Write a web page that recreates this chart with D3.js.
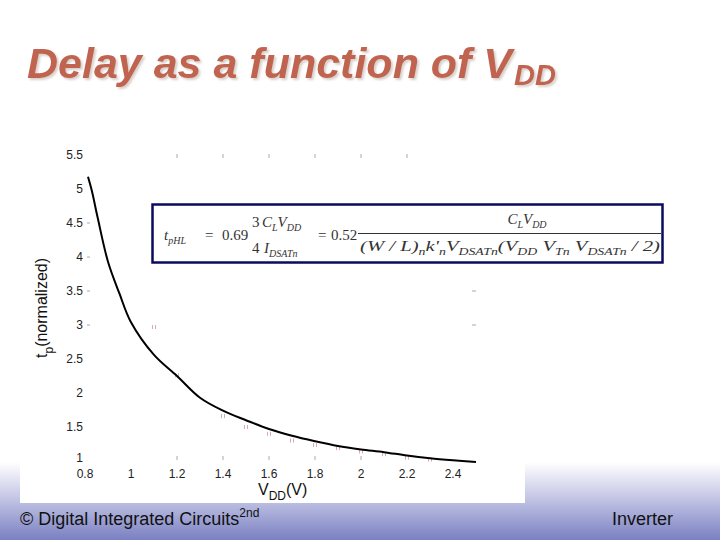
<!DOCTYPE html>
<html><head><meta charset="utf-8">
<script src="https://cdn.jsdelivr.net/npm/d3@7"></script>
<style>html,body{margin:0;padding:0;background:#fff;}svg{display:block;}</style>
</head><body>
<script>
// ---- data ----
const vdd = [0.813, 0.83, 0.855, 0.9, 0.95, 1.0, 1.1, 1.2, 1.3, 1.4, 1.5, 1.6, 1.7, 1.8, 1.9, 2.0, 2.1, 2.2, 2.3, 2.4, 2.5];
const tp  = [5.18, 4.97, 4.58, 3.93, 3.46, 3.04, 2.56, 2.25, 1.93, 1.74, 1.60, 1.47, 1.37, 1.29, 1.22, 1.17, 1.13, 1.08, 1.04, 1.01, 0.985];
const simV  = [1.1, 1.2, 1.4, 1.5, 1.6, 1.7, 1.8, 1.9, 2.0, 2.1, 2.2, 2.3];
const simTp = [2.97, 2.26, 1.66, 1.50, 1.40, 1.30, 1.235, 1.19, 1.14, 1.10, 1.05, 1.02];
const xTicks = [0.8, 1, 1.2, 1.4, 1.6, 1.8, 2, 2.2, 2.4];
const xTickLabels = ["0.8", "1", "1.2", "1.4", "1.6", "1.8", "2", "2.2", "2.4"];
const yTicks = [1, 1.5, 2, 2.5, 3, 3.5, 4, 4.5, 5, 5.5];
const yTickLabels = ["1", "1.5", "2", "2.5", "3", "3.5", "4", "4.5", "5", "5.5"];
const topTicks = [1.2, 1.4, 1.6, 1.8, 2.0, 2.2];
const bottomTicks = [1.2, 1.4, 1.6, 1.8, 2.0];
const rightTicks = [3, 3.5];
const dashTicks = [3, 3.5, 4, 4.5];

const W = 720, H = 540;
const svg = d3.select("body").append("svg").attr("width", W).attr("height", H);
const defs = svg.append("defs");
const g1 = defs.append("linearGradient").attr("id", "foot").attr("x1", 0).attr("y1", 0).attr("x2", 0).attr("y2", 1);
g1.append("stop").attr("offset", "0").attr("stop-color", "#ffffff");
g1.append("stop").attr("offset", "0.42").attr("stop-color", "#c9cbe7");
g1.append("stop").attr("offset", "1").attr("stop-color", "#7a80c3");
const sh = defs.append("filter").attr("id", "shadow").attr("x", "-5%").attr("y", "-20%").attr("width", "110%").attr("height", "140%");
sh.append("feDropShadow").attr("dx", 2).attr("dy", 2).attr("stdDeviation", 0.8)
  .attr("flood-color", "#b8a8a0").attr("flood-opacity", 0.55);

svg.append("rect").attr("width", W).attr("height", H).attr("fill", "#fff");
svg.append("rect").attr("x", 0).attr("y", 462).attr("width", W).attr("height", 78).attr("fill", "url(#foot)");
// white chart panel
svg.append("rect").attr("x", 20).attr("y", 138).attr("width", 505).attr("height", 365).attr("fill", "#fff");

// title
const t = svg.append("text").attr("x", 27).attr("y", 78)
  .attr("font-family", "Liberation Sans, Arial, sans-serif").attr("font-weight", "bold")
  .attr("font-style", "italic").attr("font-size", 43).attr("fill", "#c0634f")
  .attr("filter", "url(#shadow)");
t.append("tspan").text("Delay as a function of V");
t.append("tspan").attr("font-size", 29).attr("dy", 7).attr("dx", 2).text("DD");

// scales
const x = d3.scaleLinear().domain([0.8, 2.4]).range([85, 453]);
const y = d3.scaleLinear().domain([1, 5.5]).range([461, 155]);

const tickFont = "Liberation Sans, Arial, sans-serif";
// x tick labels
svg.append("g").selectAll("text").data(xTicks).join("text")
  .attr("x", d => x(d)).attr("y", 478).attr("text-anchor", "middle")
  .attr("font-family", tickFont).attr("font-size", 12).attr("fill", "#222")
  .text((d, i) => xTickLabels[i]);
// y tick labels
svg.append("g").selectAll("text").data(yTicks).join("text")
  .attr("x", 83).attr("y", d => y(d) + (d === 1 ? 1 : 4)).attr("text-anchor", "end")
  .attr("font-family", tickFont).attr("font-size", 12).attr("fill", "#222")
  .text((d, i) => yTickLabels[i]);
// faint tick marks
const tc = "#aaa";
svg.append("g").selectAll("line").data(dashTicks).join("line")
  .attr("x1", 87).attr("x2", 90).attr("y1", d => y(d)).attr("y2", d => y(d)).attr("stroke", tc);
svg.append("g").selectAll("line").data(topTicks).join("line")
  .attr("x1", d => x(d)).attr("x2", d => x(d)).attr("y1", 154).attr("y2", 158).attr("stroke", tc);
svg.append("g").selectAll("line").data(bottomTicks).join("line")
  .attr("x1", d => x(d)).attr("x2", d => x(d)).attr("y1", 456).attr("y2", 460).attr("stroke", tc);
svg.append("g").selectAll("line").data(rightTicks).join("line")
  .attr("x1", 472).attr("x2", 476).attr("y1", d => y(d)).attr("y2", d => y(d)).attr("stroke", tc);

// simulation marks (faint pink)
const sm = svg.append("g").attr("stroke", "#dcaaaa").attr("stroke-width", 1);
simV.forEach((v, i) => {
  const cx = x(v), cy = y(simTp[i]);
  sm.append("line").attr("x1", cx - 1.5).attr("x2", cx - 1.5).attr("y1", cy - 2).attr("y2", cy + 2);
  sm.append("line").attr("x1", cx + 1.5).attr("x2", cx + 1.5).attr("y1", cy - 2).attr("y2", cy + 2);
});

// curve
const line = d3.line().x(d => x(d[0])).y(d => y(d[1])).curve(d3.curveCatmullRom.alpha(0.5));
svg.append("path").datum(vdd.map((v, i) => [v, tp[i]])).attr("d", line)
  .attr("fill", "none").attr("stroke", "#000").attr("stroke-width", 2);

// axis labels
const xl = svg.append("text").attr("x", 258).attr("y", 495).attr("font-family", tickFont)
  .attr("font-size", 16).attr("fill", "#111");
xl.append("tspan").text("V");
xl.append("tspan").attr("font-size", 12).attr("dy", 5).text("DD");
xl.append("tspan").attr("dy", -5).text("(V)");

const yl = svg.append("text").attr("transform", "translate(47,358) rotate(-90)")
  .attr("font-family", tickFont).attr("font-size", 16).attr("fill", "#111");
yl.append("tspan").text("t");
yl.append("tspan").attr("font-size", 12).attr("dy", 6).text("p");
yl.append("tspan").attr("dy", -6).text("(normalized)");

// formula box
svg.append("rect").attr("x", 152.5).attr("y", 204.5).attr("width", 510).attr("height", 58)
  .attr("fill", "#fff").attr("stroke", "#0b0b5e").attr("stroke-width", 2.5);
const serif = "Liberation Serif, DejaVu Serif, serif";
const ft = (xx, yy, parts, opts = {}) => {
  const t = svg.append("text").attr("x", xx).attr("y", yy).attr("font-family", serif)
    .attr("font-size", 15).attr("fill", "#333");
  if (opts.anchor) t.attr("text-anchor", opts.anchor);
  if (opts.len) t.attr("textLength", opts.len).attr("lengthAdjust", "spacingAndGlyphs");
  parts.forEach(p => {
    const s = t.append("tspan").text(p.t);
    if (p.i) s.attr("font-style", "italic");
    if (p.sub) s.attr("font-size", 10).attr("dy", 4);
    if (p.up) s.attr("dy", -4);
  });
  return t;
};
ft(164, 240, [{t: "t", i: 1}, {t: "pHL", i: 1, sub: 1}]);
ft(205, 240, [{t: "="}]);
ft(222, 240, [{t: "0.69"}]);
ft(252, 227, [{t: "3"}]);
ft(252, 253, [{t: "4"}]);
ft(262, 227, [{t: "C", i: 1}, {t: "L", i: 1, sub: 1}, {t: "V", i: 1, up: 1}, {t: "DD", i: 1, sub: 1}]);
ft(264, 253, [{t: "I", i: 1}, {t: "DSATn", i: 1, sub: 1}]);
ft(318, 240, [{t: "="}]);
ft(331, 240, [{t: "0.52"}]);
ft(527, 224, [{t: "C", i: 1}, {t: "L", i: 1, sub: 1}, {t: "V", i: 1, up: 1}, {t: "DD", i: 1, sub: 1}], {anchor: "middle"});
svg.append("line").attr("x1", 358).attr("x2", 661).attr("y1", 233.5).attr("y2", 233.5).attr("stroke", "#333").attr("stroke-width", 1);
ft(360, 251, [
  {t: "(W / L)", i: 1}, {t: "n", i: 1, sub: 1}, {t: "k'", i: 1, up: 1}, {t: "n", i: 1, sub: 1},
  {t: "V", i: 1, up: 1}, {t: "DSATn", i: 1, sub: 1}, {t: "(V", i: 1, up: 1}, {t: "DD", i: 1, sub: 1},
  {t: "   V", i: 1, up: 1}, {t: "Tn", i: 1, sub: 1}, {t: "   V", i: 1, up: 1}, {t: "DSATn", i: 1, sub: 1},
  {t: " / 2)", i: 1, up: 1}
], {len: 300});

// footer
const f1 = svg.append("text").attr("x", 20).attr("y", 525).attr("font-family", tickFont)
  .attr("font-size", 18).attr("fill", "#111");
f1.append("tspan").text("© Digital Integrated Circuits");
f1.append("tspan").attr("font-size", 12).attr("dy", -8).text("2nd");
svg.append("text").attr("x", 612).attr("y", 525).attr("font-family", tickFont)
  .attr("font-size", 18).attr("fill", "#111").text("Inverter");
</script>
</body></html>
